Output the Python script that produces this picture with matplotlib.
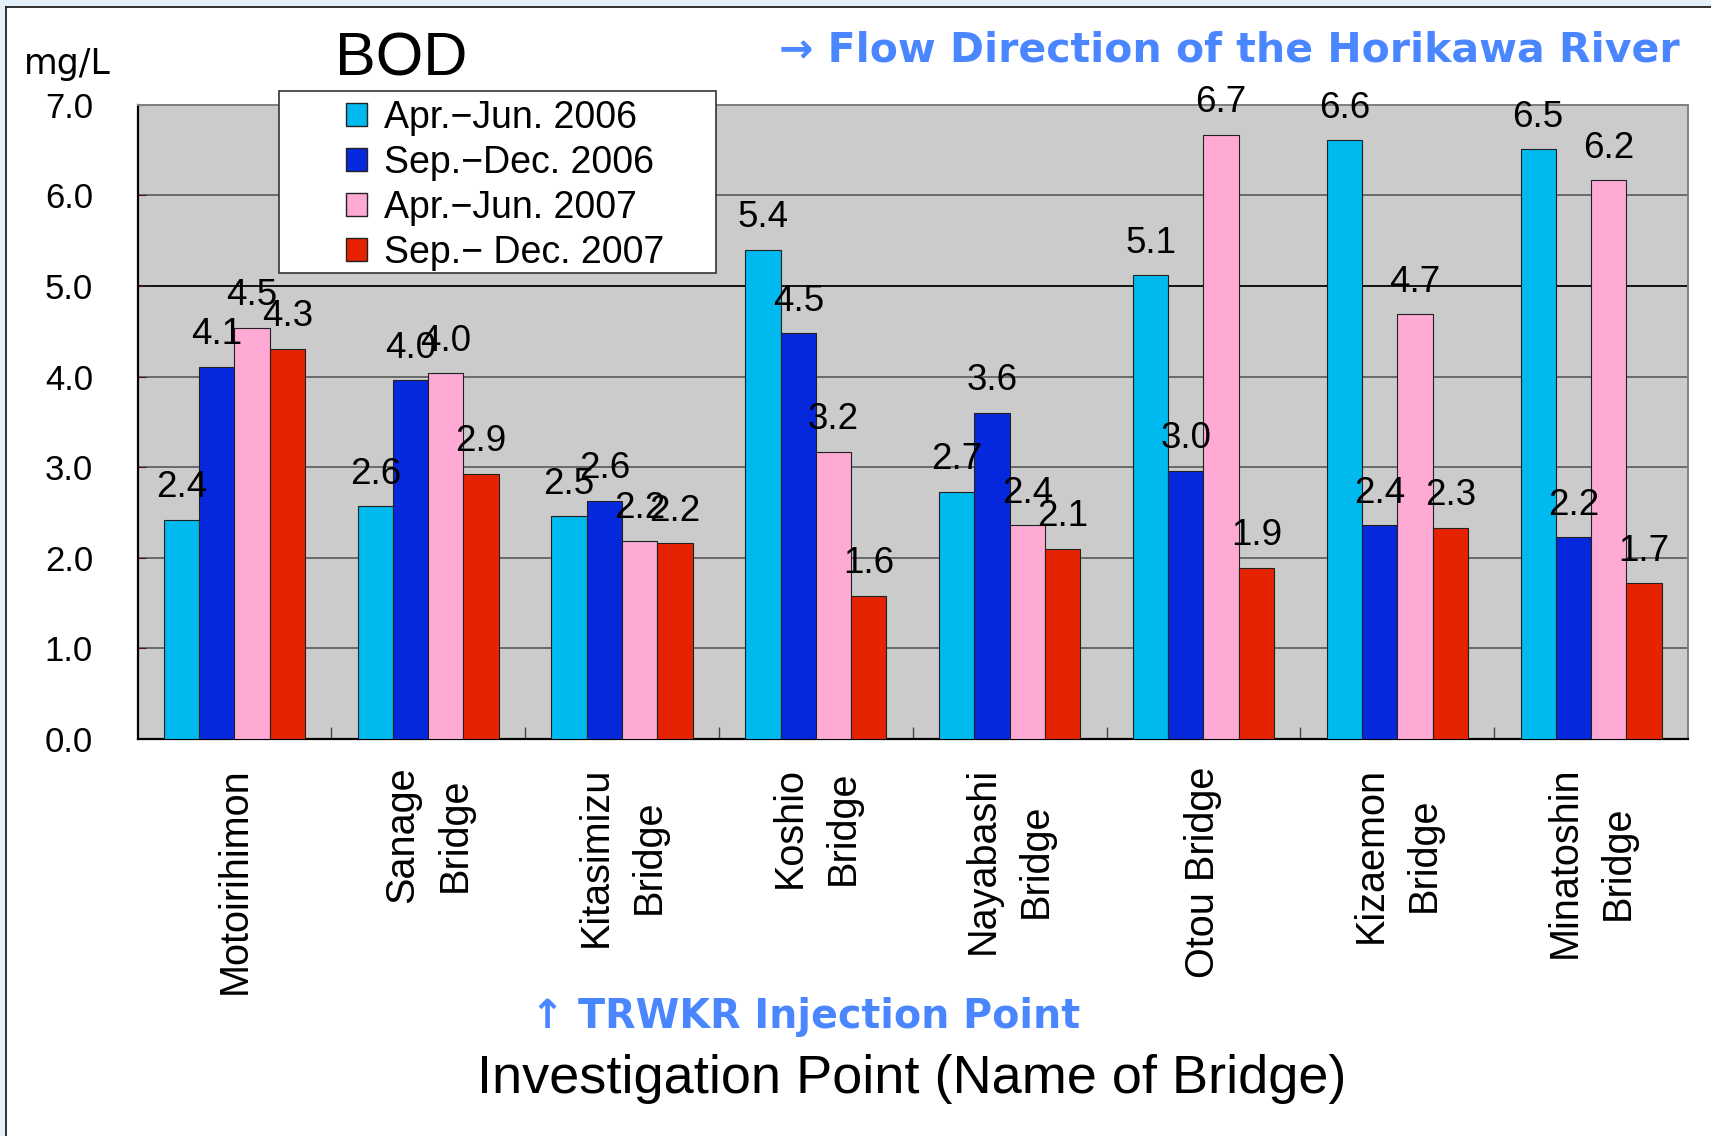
import numpy as np
import matplotlib
matplotlib.use("Agg")
import matplotlib.pyplot as plt
from matplotlib import font_manager
from matplotlib.patches import Rectangle, Patch
from matplotlib.lines import Line2D

# ---------------------------------------------------------------- data
BRIDGES = ["Motoirihimon", "Sanage\nBridge", "Kitasimizu\nBridge",
           "Koshio\nBridge", "Nayabashi\nBridge", "Otou Bridge",
           "Kizaemon\nBridge", "Minatoshin\nBridge"]
SERIES = ["Apr.\u2212Jun. 2006", "Sep.\u2212Dec. 2006",
          "Apr.\u2212Jun. 2007", "Sep.\u2212 Dec. 2007"]
APR_2006 = [2.42, 2.57, 2.46, 5.40, 2.73, 5.12, 6.61, 6.51]
SEP_2006 = [4.11, 3.96, 2.63, 4.48, 3.60, 2.96, 2.36, 2.23]
APR_2007 = [4.54, 4.04, 2.19, 3.17, 2.36, 6.67, 4.69, 6.17]
SEP_2007 = [4.31, 2.93, 2.16, 1.58, 2.10, 1.89, 2.33, 1.72]
Y_TICKS = [0, 1, 2, 3, 4, 5, 6, 7]

COLORS = ["#00B9EF", "#0628DC", "#FFAAD4", "#E62300"]
BLUE_TXT = "#4A86FF"
W, H = 1711, 1136

names = {f.name for f in font_manager.fontManager.ttflist}
if "Liberation Sans Narrow" in names:
    XT_FONT, XT_SIZE = "Liberation Sans Narrow", 34
else:
    XT_FONT, XT_SIZE = "Liberation Sans", 28.5

plt.rcParams["font.family"] = ["Liberation Sans", "DejaVu Sans"]

fig = plt.figure(figsize=(W / 100, H / 100), dpi=100, facecolor="white")

# outer frame: light blue band + dark rule along top and left
fig.add_artist(Rectangle((0, 1 - 6 / H), 1, 6 / H, transform=fig.transFigure,
                         color="#E4F1FB", lw=0, zorder=0))
fig.add_artist(Rectangle((0, 0), 5 / W, 1, transform=fig.transFigure,
                         color="#E4F1FB", lw=0, zorder=0))
fig.add_artist(Line2D([6 / W, 1], [1 - 7 / H, 1 - 7 / H], transform=fig.transFigure,
                      color="#202020", lw=1.3))
fig.add_artist(Line2D([6 / W, 6 / W], [0, 1 - 7 / H], transform=fig.transFigure,
                      color="#202020", lw=1.3))

ax = fig.add_axes([137.5 / W, 1 - 739 / H, (1688 - 137.5) / W, (739 - 104.8) / H])
ax.set_facecolor("#CBCBCB")

x = np.arange(len(BRIDGES))
bw = 0.182
for i, (vals, c) in enumerate(zip([APR_2006, SEP_2006, APR_2007, SEP_2007], COLORS)):
    xs = x + (i - 1.5) * bw
    ax.bar(xs, vals, width=bw, color=c, edgecolor="#202020", lw=0.8, zorder=3)
    for xi, v in zip(xs, vals):
        ax.annotate("{:.1f}".format(v), xy=(xi, v), xytext=(0, 23),
                    textcoords="offset points", ha="center", va="center",
                    fontsize=26.5, color="black", zorder=5, annotation_clip=False)

ax.set_xlim(-0.5, len(BRIDGES) - 0.5)
ax.set_ylim(0, 7)
ax.set_yticks(Y_TICKS)
ax.set_yticklabels(["{:.1f}".format(t) for t in Y_TICKS], fontsize=25)
ax.tick_params(axis="y", direction="in", length=6, color="#5a1010", pad=32)
ax.set_xticks(x)
ax.set_xticklabels(BRIDGES, rotation=90, fontsize=XT_SIZE, family=XT_FONT,
                   multialignment="center", va="top", ha="center",
                   linespacing=1.5)
ax.tick_params(axis="x", which="major", length=0, pad=20)
ax.set_xticks(x[:-1] + 0.5, minor=True)
ax.tick_params(axis="x", which="minor", direction="in", length=9,
               color="#444444", width=1)

ax.yaxis.grid(True, color="#6a6a6a", lw=1.4, zorder=1)
ax.get_ygridlines()[5].set_color("#111111")
ax.set_axisbelow(True)
for s in ["left", "bottom"]:
    ax.spines[s].set_color("black")
    ax.spines[s].set_linewidth(1.6)
for s in ["top", "right"]:
    ax.spines[s].set_color("#808080")
    ax.spines[s].set_linewidth(1.4)

# legend box (drawn over the top of the plot area)
fig.add_artist(Rectangle((279 / W, 1 - 272.8 / H), (716 - 279) / W, (272.8 - 90.6) / H,
                         transform=fig.transFigure, facecolor="white",
                         edgecolor="#333333", lw=1.2, zorder=4))
handles = [Patch(facecolor=c, edgecolor="#222222", lw=1.0) for c in COLORS]
fig.legend(handles, SERIES, loc="upper left",
           bbox_to_anchor=(346 / W, 1 - 100 / H), frameon=False, fontsize=27,
           handlelength=0.55, handleheight=0.55, handletextpad=0.45,
           labelspacing=0.24, borderpad=0, borderaxespad=0)

# texts
fig.text(67 / W, 1 - 74 / H, "mg/L", fontsize=25, family="DejaVu Sans",
         ha="center", va="baseline")
fig.text(401.5 / W, 1 - 76 / H, "BOD", fontsize=44, ha="center", va="baseline")
fig.text(1680 / W, 1 - 61 / H, "\u2192 Flow Direction of the Horikawa River",
         fontsize=29.5, family="DejaVu Sans", weight="bold", color=BLUE_TXT,
         ha="right", va="baseline")
fig.text(531 / W, 1 - 1028 / H, "\u2191 TRWKR Injection Point",
         fontsize=28.5, family="DejaVu Sans", weight="bold", color=BLUE_TXT,
         ha="left", va="baseline")
fig.text(912 / W, 1 - 1093 / H, "Investigation Point (Name of Bridge)",
         fontsize=39, ha="center", va="baseline")

fig.savefig("out.png", dpi=100, facecolor="white")
